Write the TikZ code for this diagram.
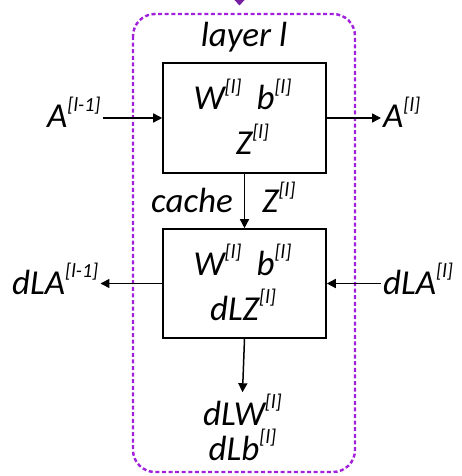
\documentclass[tikz,border=0pt]{standalone}
\usepackage{fontspec}
\setmainfont{Carlito}
\usetikzlibrary{arrows.meta}

% raised, smaller superscript in the running italic
\newcommand\lsup[1]{\raisebox{0.46em}{\fontsize{20bp}{21bp}\selectfont #1}}

\definecolor{framevio}{RGB}{160,32,220}
\definecolor{tipvio}{RGB}{120,30,160}

\tikzset{
  txt/.style={inner sep=2bp, font=\fontsize{35bp}{36bp}\selectfont\itshape},
  stagebox/.style={draw, line width=1.6bp, inner sep=0pt},
  arr/.style={line width=1.5bp, -{Triangle[length=9bp,width=9bp]}},
  frame/.style={draw=framevio, line width=2.4bp, dash pattern=on 4bp off 2.6bp, rounded corners=22bp}
}

\begin{document}
\begin{tikzpicture}[x=1bp, y=-1bp]
\useasboundingbox (0,0) rectangle (462,476);

% incoming tip from the previous layer
\fill[tipvio] (234.5,0) -- (244.5,0) -- (239.5,5.5) -- cycle;

% layer frame
\draw[frame] (133,14) rectangle (355,472);
\node[txt, anchor=base] (title) at (244,47) {layer l};

% forward and backward blocks
\node[stagebox, minimum width=163bp, minimum height=110bp] (fwd) at (244.5,118) {};
\node[stagebox, minimum width=163bp, minimum height=109bp] (bwd) at (244.5,283.5) {};

% forward block contents
\node[txt, anchor=base] (fwdwb) at (242.5,110) {W\lsup{[l]}\hspace{15bp}b\lsup{[l]}};
\node[txt, anchor=base] (fwdz) at (252.5,155) {Z\lsup{[l]}};

% backward block contents
\node[txt, anchor=base] (bwdwb) at (242.5,275) {W\lsup{[l]}\hspace{15bp}b\lsup{[l]}};
\node[txt, anchor=base] (bwddz) at (243,320) {dLZ\lsup{[l]}};

% forward inputs and outputs
\node[txt, anchor=base west] (ain) at (45,128) {A\lsup{[l-1]}};
\node[txt, anchor=base west] (aout) at (381,128) {A\lsup{[l]}};
\draw[arr] (fwd.west -| ain.east) -- (fwd.west);
\draw[arr] (fwd.east) -- (fwd.east -| aout.west);

% cache passed down
\node[txt, anchor=base east] (cache) at (235,213) {cache};
\node[txt, anchor=base west] (cachez) at (260,213) {Z\lsup{[l]}};
\draw[arr] (fwd.south) -- (bwd.north);

% backward inputs and outputs
\node[txt, anchor=base west] (dlaprev) at (10,294) {dLA\lsup{[l-1]}};
\node[txt, anchor=base west] (dla) at (381,294) {dLA\lsup{[l]}};
\draw[arr] (bwd.west) -- (bwd.west -| dlaprev.east);
\draw[arr] (bwd.east -| dla.west) -- (bwd.east);

% gradients
\node[txt, inner sep=0.5bp, anchor=base] (dlw) at (242.5,425) {dLW\lsup{[l]}};
\node[txt, inner sep=0.5bp, anchor=base] (dlb) at (242.5,460) {dLb\lsup{[l]}};
\draw[arr] (bwd.south) -- ([yshift=1.5bp]dlw.north);
\end{tikzpicture}
\end{document}
